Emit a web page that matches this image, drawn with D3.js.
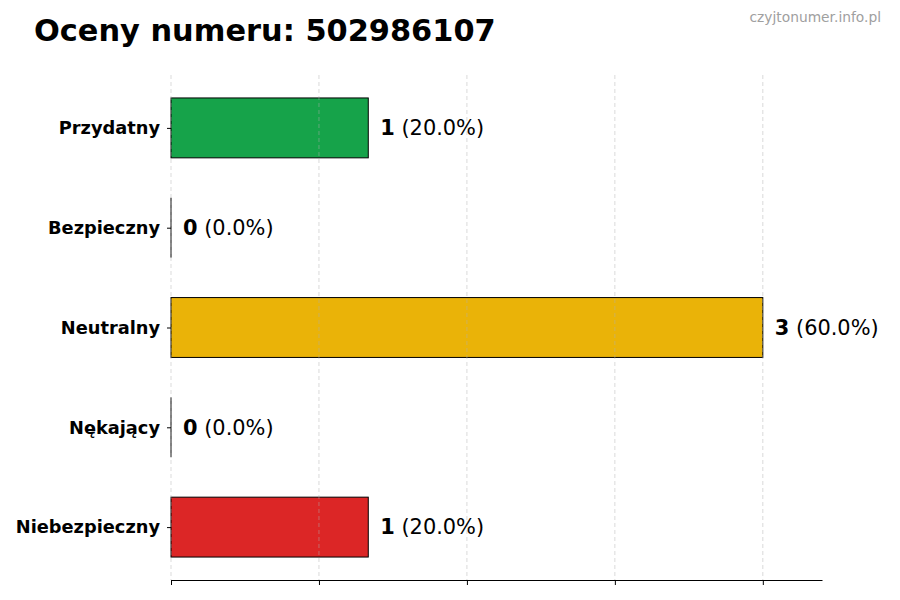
<!DOCTYPE html>
<html><head><meta charset="utf-8">
<script src="https://cdn.jsdelivr.net/npm/d3@7"></script>
<style>body{margin:0;background:#fff}svg{display:block;font-family:"DejaVu Sans",sans-serif}</style>
</head><body>
<svg id="c" width="900" height="600"></svg>
<script>
const categories = ["Przydatny","Bezpieczny","Neutralny","Nękający","Niebezpieczny"];
const counts = [1,0,3,0,1];
const percents = ["20.0%","0.0%","60.0%","0.0%","20.0%"];
const colors = ["#16a34a","#2563eb","#eab308","#f97316","#dc2626"];
const xTicks = [0,0.75,1.5,2.25,3];
const title = "Oceny numeru: 502986107";
const watermark = "czyjtonumer.info.pl";

const svg = d3.select("#c");
const L=171, R=822, T=75, B=580;
const x = d3.scaleLinear().domain([0,3.3]).range([L,R]);
const y = d3.scaleLinear().domain([-0.53,4.53]).range([T,B]);
const bh = y(0.6)-y(0);

svg.append("text").attr("x",34).attr("y",41).attr("font-size",30.4).attr("font-weight","bold").attr("fill","#000").text(title);
svg.append("text").attr("x",881).attr("y",22).attr("text-anchor","end").attr("font-size",13.8).attr("fill","#a0a0a0").text(watermark);

// bars
svg.selectAll("rect.bar").data(counts).join("rect")
  .attr("x",x(0)).attr("y",(d,i)=>y(i)-bh/2)
  .attr("width",d=>x(d)-x(0)).attr("height",bh)
  .attr("fill",(d,i)=>colors[i]).attr("stroke","#000").attr("stroke-width",1);
svg.selectAll("line.zero").data(counts.map((d,i)=>[d,i]).filter(a=>a[0]===0)).join("line")
  .attr("x1",x(0)).attr("x2",x(0)).attr("y1",a=>y(a[1])-bh/2).attr("y2",a=>y(a[1])+bh/2)
  .attr("stroke","#000").attr("stroke-width",1);

// grid over bars
svg.selectAll("line.grid").data(xTicks).join("line")
  .attr("x1",d=>x(d)).attr("x2",d=>x(d)).attr("y1",T).attr("y2",B)
  .attr("stroke","#b0b0b0").attr("stroke-opacity",0.6).attr("stroke-dasharray","4,3").attr("stroke-width",0.8);

// x axis
const xa = svg.append("g").attr("transform",`translate(0,${B})`)
  .call(d3.axisBottom(x).tickValues(xTicks).tickFormat("").tickSize(5).tickSizeOuter(0));
xa.select(".domain").attr("stroke","#000").attr("stroke-width",1.2);
xa.selectAll(".tick line").attr("stroke","#000");

// y axis
const ya = svg.append("g").attr("transform",`translate(${L},0)`)
  .call(d3.axisLeft(y).tickValues(d3.range(categories.length)).tickFormat(i=>categories[i]).tickSize(4).tickPadding(7));
ya.select(".domain").remove();
ya.selectAll(".tick line").attr("stroke","#000");
ya.selectAll(".tick text").attr("font-size",17.8).attr("font-weight","bold").attr("fill","#000").attr("font-family","DejaVu Sans");

// value labels
const lab = svg.selectAll("text.val").data(counts).join("text")
  .attr("x",d=>x(d)+12).attr("y",(d,i)=>y(i)).attr("dy","0.35em").attr("font-size",20.9).attr("fill","#000");
lab.append("tspan").attr("font-weight","bold").text(d=>d);
lab.append("tspan").text((d,i)=>" ("+percents[i]+")");
</script>
</body></html>
